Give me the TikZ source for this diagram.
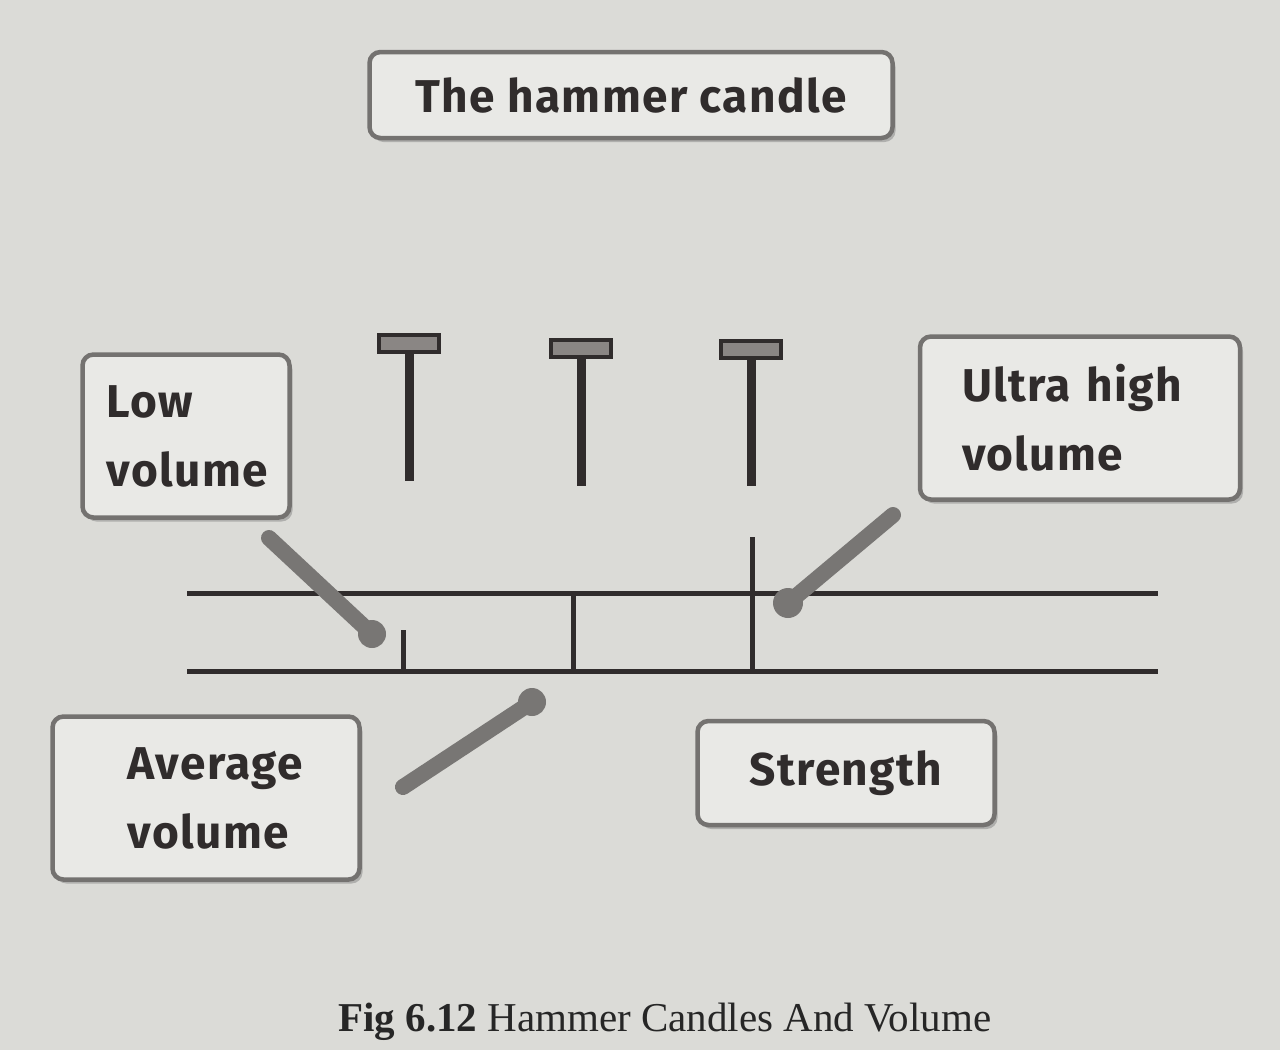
\documentclass[tikz,border=0pt]{standalone}
\usepackage{fontspec}
\setmainfont{Fira Sans}
\newfontfamily\handfont[LetterSpace=3]{Fira Sans}
\newfontfamily\capfont{Liberation Serif}
\usetikzlibrary{calc,positioning,shadows}

\definecolor{paper}{RGB}{219,219,215}
\definecolor{boxfill}{RGB}{233,233,230}
\definecolor{boxline}{RGB}{116,114,112}
\definecolor{ink}{RGB}{48,44,44}
\definecolor{pointergray}{RGB}{120,118,116}
\definecolor{bodygray}{RGB}{138,134,132}

\begin{document}
\begin{tikzpicture}[
  x=1pt, y=-1pt,
  labelbox/.style={draw=boxline, line width=4.5pt, fill=boxfill,
    rounded corners=11pt, inner ysep=0pt, text=ink,
    font=\handfont\fontsize{46}{69}\selectfont\bfseries,
    drop shadow={shadow xshift=3pt, shadow yshift=-4pt, opacity=0.3, fill=black!70}},
  hammerbody/.style={draw=ink, line width=4.5pt, fill=bodygray},
  wick/.style={draw=ink, line width=9pt},
  volline/.style={draw=ink, line width=5pt},
  volbar/.style={draw=ink, line width=5pt},
  pointer/.style={draw=pointergray, line width=16pt, line cap=round},
  blob/.style={fill=pointergray},
  caption/.style={font=\capfont\fontsize{41}{48}\selectfont, text=black!85}
]

% ---------- page ----------
\fill[paper] (0,0) rectangle (1280,1050);
\useasboundingbox (0,0) rectangle (1280,1050);

% ---------- hammers ----------
\newcommand{\placeHammer}[3]{% #1 = x, #2 = body top, #3 = wick bottom
  \begin{scope}
    \draw[wick] (#1,#2) -- (#1,#3);
    \draw[hammerbody] (#1-30,#2) rectangle (#1+30,#2+17);
  \end{scope}
}

\placeHammer{409}{335}{481}
\placeHammer{581}{340}{486}
\placeHammer{751}{341}{486}

% ---------- volume ----------
\def\upY{593}
\def\lowY{671}
\draw[volline] (187,\upY) -- (1158,\upY);
\draw[volline] (187,\lowY) -- (1158,\lowY);
\draw[volbar] (403,630) -- (403,\lowY);
\draw[volbar] (573,\upY) -- (573,\lowY);
\draw[volbar] (752,537) -- (752,\lowY);

% ---------- labels ----------
\node[labelbox, minimum width=523pt, minimum height=86pt, inner xsep=0pt]
  (title) at (631,95) {The hammer candle};

\node[labelbox, text width=159pt, inner xsep=24pt, minimum height=163pt, align=left]
  (lowvol) at (186,436) {Low\\volume};

\node[labelbox, text width=236pt, inner xsep=42pt, minimum height=163pt, align=left]
  (ultravol) at (1080,418) {Ultra high\\volume};

\node[labelbox, text width=157pt, inner xsep=75pt, minimum height=163pt, align=left]
  (avgvol) at (206,798) {Average\\volume};

\node[labelbox, minimum width=297pt, minimum height=104pt, inner xsep=0pt]
  (strength) at (846,773) {Strength};

% ---------- pointers ----------
\coordinate (lowfrom) at (269,538);
\coordinate (lowto) at (372,634);
\coordinate (ultrafrom) at (893,515);
\coordinate (ultrato) at (788,603);
\coordinate (avgfrom) at (403,787);
\coordinate (avgto) at (532,702);

\draw[pointer] (lowfrom) -- (lowto);
\fill[blob] (lowto) circle [radius=14];
\draw[pointer] (ultrafrom) -- (ultrato);
\fill[blob] (ultrato) circle [radius=15];
\draw[pointer] (avgfrom) -- (avgto);
\fill[blob] (avgto) circle [radius=14];

% ---------- caption ----------
\node[caption, anchor=base west] (figcap) at (335,1031)
  {\textbf{Fig 6.12} Hammer Candles And Volume};

\end{tikzpicture}
\end{document}
